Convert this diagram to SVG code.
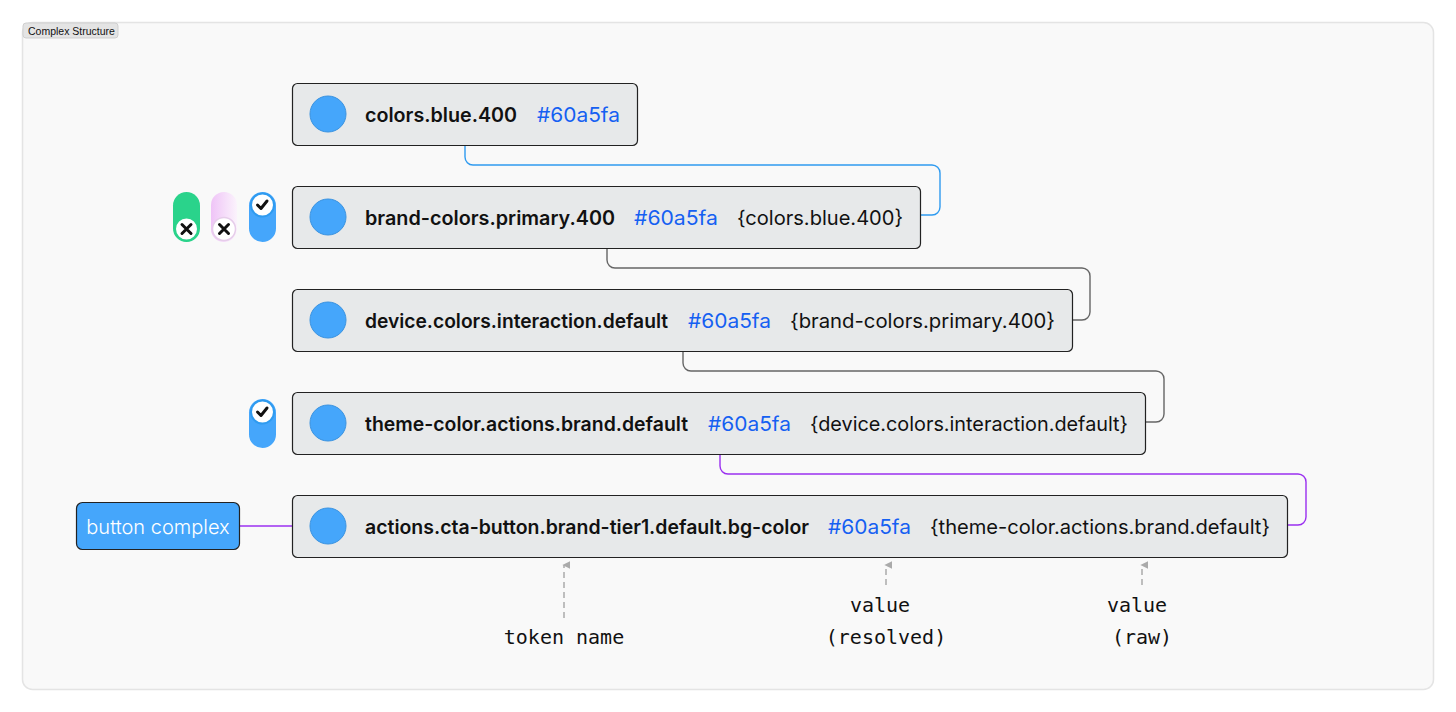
<svg xmlns="http://www.w3.org/2000/svg" width="1456" height="712" viewBox="0 0 1456 712">
<defs>
<style>
.frame{fill:#f9f9f9;stroke:#e4e4e4;stroke-width:1.5}
.tab{fill:#e4e4e4;stroke:#cfcfcf;stroke-width:1}
.tabt{font-family:"Liberation Sans",Arial,sans-serif;font-size:10.5px;fill:#111}
.node{fill:#e7e9ea;stroke:#222;stroke-width:1.2}
.dot{fill:#45a6fb;stroke:#3b93e0;stroke-width:1}
.name{font-family:Inter,"Noto Sans",sans-serif;font-weight:600;font-size:19.5px;fill:#111}
.hex{font-family:Inter,"Noto Sans",sans-serif;font-size:20px;fill:#1560f2}
.raw{font-family:Inter,"Noto Sans",sans-serif;font-size:20px;fill:#111}
.conn{fill:none;stroke-width:1.4}
.ann{fill:none;stroke:#aaa;stroke-width:1.5;stroke-dasharray:6 4}
.annt{font-family:"DejaVu Sans Mono","Liberation Mono",monospace;font-size:20px;fill:#111;text-anchor:middle}
.knob{fill:#fff}
.mark{fill:none;stroke:#111;stroke-width:3;stroke-linecap:round;stroke-linejoin:round}
</style>
<linearGradient id="pink" x1="0" y1="0" x2="1" y2="0">
<stop offset="0" stop-color="#efc4f7"/>
<stop offset="1" stop-color="#fbf3fc"/>
</linearGradient>
<marker id="ah" viewBox="0 0 10 10" refX="5" refY="2" markerWidth="8" markerHeight="8" orient="auto-start-reverse" markerUnits="userSpaceOnUse">
<path d="M5 0 L10 10 L0 10 Z" fill="#aaa"/>
</marker>
</defs>

<rect class="frame" x="22.5" y="22.5" width="1411" height="667" rx="10"/>
<g id="tab">
<rect class="tab" x="23" y="23" width="95" height="15" rx="3"/>
<text class="tabt" x="28" y="34.5">Complex Structure</text>
</g>

<g id="connectors">
<path class="conn" stroke="#2f9bf0" d="M465 145 V157 a8 8 0 0 0 8 8 H932 a8 8 0 0 1 8 8 V207 a8 8 0 0 1 -8 8 H921"/>
<path class="conn" stroke="#666" d="M607 248 V260 a8 8 0 0 0 8 8 H1082 a8 8 0 0 1 8 8 V312 a8 8 0 0 1 -8 8 H1073"/>
<path class="conn" stroke="#666" d="M683 351 V363 a8 8 0 0 0 8 8 H1156 a8 8 0 0 1 8 8 V414 a8 8 0 0 1 -8 8 H1146"/>
<path class="conn" stroke="#9b30f0" d="M720 454 V466 a8 8 0 0 0 8 8 H1298 a8 8 0 0 1 8 8 V517 a8 8 0 0 1 -8 8 H1288"/>
<path class="conn" stroke="#9b30f0" d="M240 526 H292"/>
</g>

<g id="node-colors-blue-400">
<rect class="node" x="292.5" y="83.5" width="345" height="62" rx="5"/>
<circle class="dot" cx="328" cy="114" r="18"/>
<text class="name" x="365" y="122" textLength="152" lengthAdjust="spacingAndGlyphs">colors.blue.400</text>
<text class="hex" x="537" y="122" textLength="83" lengthAdjust="spacingAndGlyphs">#60a5fa</text>
</g>

<g id="node-brand-colors">
<rect class="node" x="292.5" y="186.5" width="628" height="62" rx="5"/>
<circle class="dot" cx="328" cy="217" r="18"/>
<text class="name" x="365" y="225" textLength="250" lengthAdjust="spacingAndGlyphs">brand-colors.primary.400</text>
<text class="hex" x="634" y="225" textLength="84" lengthAdjust="spacingAndGlyphs">#60a5fa</text>
<text class="raw" x="737" y="225" textLength="166" lengthAdjust="spacingAndGlyphs">{colors.blue.400}</text>
</g>

<g id="node-device-colors">
<rect class="node" x="292.5" y="289.5" width="780" height="62" rx="5"/>
<circle class="dot" cx="328" cy="320" r="18"/>
<text class="name" x="365" y="328" textLength="303" lengthAdjust="spacingAndGlyphs">device.colors.interaction.default</text>
<text class="hex" x="688" y="328" textLength="83" lengthAdjust="spacingAndGlyphs">#60a5fa</text>
<text class="raw" x="790" y="328" textLength="265" lengthAdjust="spacingAndGlyphs">{brand-colors.primary.400}</text>
</g>

<g id="node-theme-color">
<rect class="node" x="292.5" y="392.5" width="853" height="62" rx="5"/>
<circle class="dot" cx="328" cy="423" r="18"/>
<text class="name" x="365" y="431" textLength="323" lengthAdjust="spacingAndGlyphs">theme-color.actions.brand.default</text>
<text class="hex" x="708" y="431" textLength="83" lengthAdjust="spacingAndGlyphs">#60a5fa</text>
<text class="raw" x="810" y="431" textLength="318" lengthAdjust="spacingAndGlyphs">{device.colors.interaction.default}</text>
</g>

<g id="node-actions">
<rect class="node" x="292.5" y="495.5" width="995" height="62" rx="5"/>
<circle class="dot" cx="328" cy="526" r="18"/>
<text class="name" x="365" y="534" textLength="444" lengthAdjust="spacingAndGlyphs">actions.cta-button.brand-tier1.default.bg-color</text>
<text class="hex" x="828" y="534" textLength="83" lengthAdjust="spacingAndGlyphs">#60a5fa</text>
<text class="raw" x="930" y="534" textLength="340" lengthAdjust="spacingAndGlyphs">{theme-color.actions.brand.default}</text>
</g>

<g id="button-complex">
<rect x="76.5" y="502.5" width="163" height="47" rx="6" fill="#45a6fb" stroke="#222" stroke-width="1.2"/>
<text x="158" y="534" text-anchor="middle" font-family="Inter,'Noto Sans',sans-serif" font-size="20" font-weight="300" fill="#fff">button complex</text>
</g>

<g id="toggle-green">
<rect x="173" y="192" width="27" height="50" rx="13.5" fill="#2ad38b"/>
<circle class="knob" cx="186.5" cy="229" r="11.5" stroke="#2ad38b" stroke-width="2"/>
<path class="mark" d="M182 224.5 L191 233.5 M191 224.5 L182 233.5"/>
</g>
<g id="toggle-pink">
<rect x="211" y="192" width="26" height="50" rx="13" fill="url(#pink)"/>
<circle class="knob" cx="224" cy="229" r="11.5" stroke="#e6cdea" stroke-width="1.5"/>
<path class="mark" d="M219.5 224.5 L228.5 233.5 M228.5 224.5 L219.5 233.5"/>
</g>
<g id="toggle-blue-1">
<rect x="249" y="192" width="27" height="50" rx="13.5" fill="#45a6fb"/>
<circle class="knob" cx="262.5" cy="205" r="11.5" stroke="#2f9bf0" stroke-width="2"/>
<path class="mark" d="M257.5 205 L261 208.5 L267 201"/>
</g>
<g id="toggle-blue-2">
<rect x="249" y="399" width="27" height="49" rx="13.5" fill="#45a6fb"/>
<circle class="knob" cx="262.5" cy="412" r="11.5" stroke="#2f9bf0" stroke-width="2"/>
<path class="mark" d="M257.5 412 L261 415.5 L267 408"/>
</g>

<g id="annotations">
<path class="ann" d="M564 618 V565" marker-end="url(#ah)"/>
<path class="ann" d="M886 585 V565" marker-end="url(#ah)"/>
<path class="ann" d="M1142 585 V565" marker-end="url(#ah)"/>
<text class="annt" x="564" y="644">token name</text>
<text class="annt" x="880" y="612">value</text>
<text class="annt" x="886" y="644">(resolved)</text>
<text class="annt" x="1137" y="612">value</text>
<text class="annt" x="1142" y="644">(raw)</text>
</g>
</svg>
